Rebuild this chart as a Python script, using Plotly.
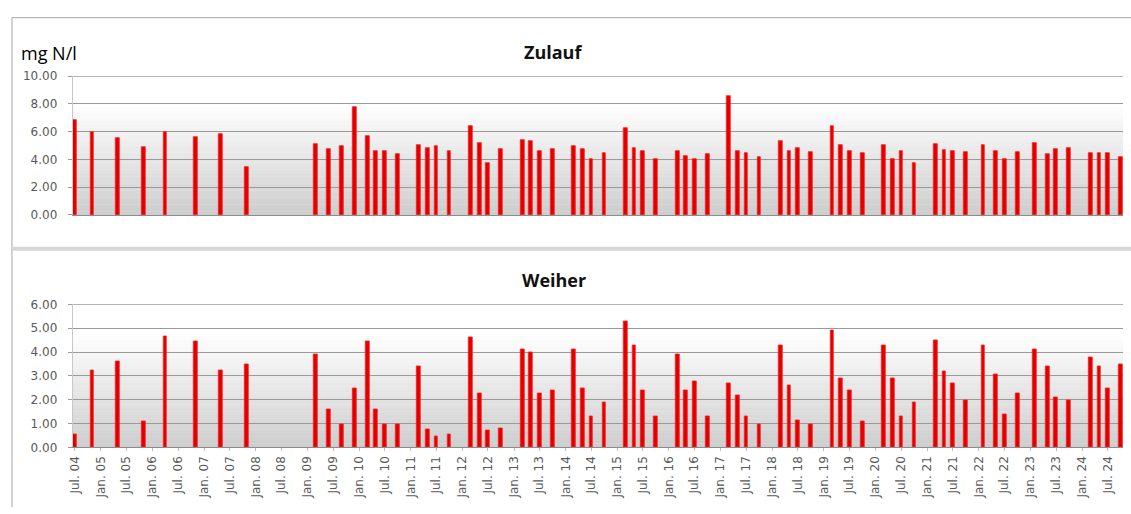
import plotly.graph_objects as go
import pandas as pd

# ---- data ----
sample_months = [
    "2004-07", "2004-11", "2005-05", "2005-11", "2006-04", "2006-11", "2007-05", "2007-11",
    "2009-03", "2009-06", "2009-09", "2009-12", "2010-03", "2010-05", "2010-07", "2010-10",
    "2011-03", "2011-05", "2011-07", "2011-10", "2012-03", "2012-05", "2012-07", "2012-10",
    "2013-03", "2013-05", "2013-07", "2013-10", "2014-03", "2014-05", "2014-07", "2014-10",
    "2015-03", "2015-05", "2015-07", "2015-10", "2016-03", "2016-05", "2016-07", "2016-10",
    "2017-03", "2017-05", "2017-07", "2017-10", "2018-03", "2018-05", "2018-07", "2018-10",
    "2019-03", "2019-05", "2019-07", "2019-10", "2020-03", "2020-05", "2020-07", "2020-10",
    "2021-03", "2021-05", "2021-07", "2021-10", "2022-02", "2022-05", "2022-07", "2022-10",
    "2023-02", "2023-05", "2023-07", "2023-10", "2024-03", "2024-05", "2024-07", "2024-10",
]

zulauf = [
    6.80, 5.98, 5.51, 4.86, 5.94, 5.63, 5.82, 3.41, 5.12, 4.77, 4.93, 7.74, 5.70, 4.63, 4.63, 4.35,
    5.02, 4.81, 4.98, 4.63, 6.40, 5.14, 3.74, 4.77, 5.42, 5.35, 4.63, 4.74, 4.98, 4.74, 4.04, 4.44,
    6.24, 4.81, 4.63, 4.00, 4.63, 4.23, 4.04, 4.39, 8.55, 4.63, 4.44, 4.18,
    5.35, 4.63, 4.81, 4.56, 6.43, 5.05, 4.63, 4.42, 5.05, 4.04, 4.63, 3.71, 5.12, 4.70, 4.63, 4.53,
    5.02, 4.63, 4.00, 4.56, 5.14, 4.35, 4.72, 4.79, 4.42, 4.42, 4.42, 4.18,
]

weiher = [
    0.55, 3.25, 3.62, 1.09, 4.64, 4.46, 3.25, 3.47, 3.90, 1.58, 0.98, 2.48, 4.46, 1.58, 0.98, 0.98,
    3.40, 0.76, 0.48, 0.56, 4.60, 2.27, 0.70, 0.78, 4.10, 3.99, 2.27, 2.40, 4.10, 2.48, 1.28, 1.88,
    5.28, 4.29, 2.40, 1.28, 3.89, 2.40, 2.79, 1.28, 2.69, 2.19, 1.28, 0.98,
    4.29, 2.59, 1.13, 0.98, 4.90, 2.90, 2.40, 1.10, 4.29, 2.91, 1.28, 1.88, 4.49, 3.17, 2.69, 1.99,
    4.29, 3.07, 1.39, 2.27, 4.10, 3.40, 2.08, 1.99, 3.78, 3.40, 2.49, 3.48,
]

label_years = list(range(2004, 2025))
tick_months = [f"{y}-{m:02d}" for y in label_years for m in (1, 7)][1:]
tick_labels = [("Jan. " if m.endswith("-01") else "Jul. ") + m[2:4] for m in tick_months]

panel_titles = ["Zulauf", "Weiher"]
unit_label = "mg N/l"
y_max = [10, 6]

# ---- build ----
W, H = 1131, 514
x_dates = pd.to_datetime(sample_months) + pd.Timedelta(days=15)
tick_dates = pd.to_datetime(tick_months) + pd.Timedelta(days=15)
bar_width_ms = 27 * 24 * 3600 * 1000

def px(xp):
    return xp / W

def py(yp):
    return 1 - yp / H

x_dom = [px(68), px(1123)]
top_dom = [py(213.7), py(71)]
bot_dom = [py(452.7), py(305.7)]
x_range = ["2004-07-01", "2024-11-01"]

bar_kw = dict(marker=dict(color="#e00000", line=dict(color="#ff2020", width=0.8)),
              width=bar_width_ms, hoverinfo="x+y", showlegend=False)

fig = go.Figure()
fig.add_trace(go.Bar(x=x_dates, y=zulauf, xaxis="x", yaxis="y", name=panel_titles[0], **bar_kw))
fig.add_trace(go.Bar(x=x_dates, y=weiher, xaxis="x2", yaxis="y2", name=panel_titles[1], **bar_kw))

tick_font = dict(family="DejaVu Sans", size=12, color="#595959")
grid_col = "#9a9a9a"
common_y = dict(showgrid=True, gridcolor=grid_col, gridwidth=1.2, tickformat=".2f",
                ticks="outside", ticklen=4, tickcolor=grid_col, tickfont=tick_font,
                showline=True, linecolor="#c8c8c8", linewidth=1, zeroline=False,
                ticklabelstandoff=8)

shapes = []
N = 40
for yref_dom in ("y domain", "y2 domain"):
    xref = "x domain" if yref_dom == "y domain" else "x2 domain"
    for i in range(N):
        t = (i + 0.5) / N
        g = int(round(205 + 50 * min(1.0, t / 0.8)))
        shapes.append(dict(type="rect", xref=xref, yref=yref_dom, x0=0, x1=1,
                           y0=i / N, y1=(i + 1) / N + 0.002, layer="below",
                           line=dict(width=0), fillcolor=f"rgb({g},{g},{g})"))

# top gridlines at the range maximum
for yr, xr, ym in (("y", "x domain", y_max[0]), ("y2", "x2 domain", y_max[1])):
    shapes.append(dict(type="line", xref=xr, yref=yr, x0=0, x1=1, y0=ym, y1=ym,
                       line=dict(color=grid_col, width=1.2), layer="below"))

# chart frames
shapes.append(dict(type="line", xref="paper", yref="paper", x0=px(7), x1=px(7), y0=0, y1=py(11),
                   line=dict(color="#a6a6a6", width=1)))
shapes.append(dict(type="line", xref="paper", yref="paper", x0=px(7), x1=1, y0=py(11), y1=py(11),
                   line=dict(color="#a6a6a6", width=1)))
shapes.append(dict(type="rect", xref="paper", yref="paper", x0=px(7), x1=1, y0=py(250.5), y1=py(246.5),
                   line=dict(width=0), fillcolor="#d6d6d6"))

fig.update_layout(
    width=W, height=H,
    margin=dict(l=0, r=0, t=0, b=0),
    paper_bgcolor="white", plot_bgcolor="rgba(0,0,0,0)",
    bargap=0,
    xaxis=dict(domain=x_dom, anchor="y", type="date", range=x_range, showticklabels=False,
               showgrid=False, showline=True, linecolor="#8c8c8c", ticks=""),
    yaxis=dict(domain=top_dom, anchor="x", range=[0, y_max[0]], dtick=2, **common_y),
    xaxis2=dict(domain=x_dom, anchor="y2", type="date", range=x_range, showgrid=False,
                showline=True, linecolor="#8c8c8c", tickmode="array", tickvals=tick_dates,
                ticktext=tick_labels, tickangle=-90, tickfont=tick_font, ticks="outside",
                ticklen=3, tickcolor="#bfbfbf"),
    yaxis2=dict(domain=bot_dom, anchor="x2", range=[0, y_max[1]], dtick=1, **common_y),
    shapes=shapes,
    annotations=[
        dict(text=unit_label, x=px(14), y=py(47), xref="paper", yref="paper", xanchor="left",
             yanchor="middle", showarrow=False, font=dict(family="Open Sans", size=18, color="#000000")),
        dict(text=f"<b>{panel_titles[0]}</b>", x=px(550), y=py(46), xref="paper", yref="paper",
             xanchor="center", yanchor="middle", showarrow=False,
             font=dict(family="Open Sans", size=18, color="#111111")),
        dict(text=f"<b>{panel_titles[1]}</b>", x=px(551), y=py(281), xref="paper", yref="paper",
             xanchor="center", yanchor="middle", showarrow=False,
             font=dict(family="Open Sans", size=18, color="#111111")),
    ],
)

fig.write_html("out.html", config={"displayModeBar": False},
               post_script="document.body.style.margin='0px';document.body.style.overflow='hidden';")
